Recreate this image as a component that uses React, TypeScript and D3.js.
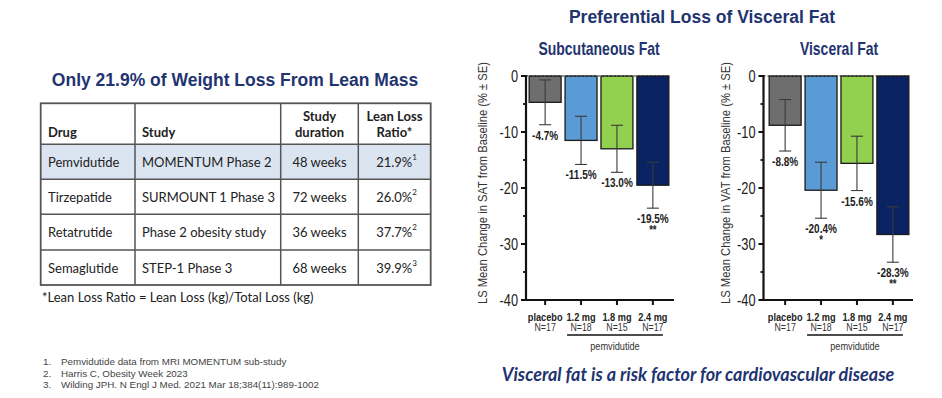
import React from "react";
import * as d3 from "d3";

const categories = ["placebo", "1.2 mg", "1.8 mg", "2.4 mg"];
const nLabels = ["N=17", "N=18", "N=15", "N=17"];
const satValues = [-4.7, -11.5, -13.0, -19.5];
const satSE = [4.0, 4.3, 4.2, 4.1];
const satSig = ["", "", "", "**"];
const vatValues = [-8.8, -20.4, -15.6, -28.3];
const vatSE = [4.6, 5.0, 4.85, 4.95];
const vatSig = ["", "*", "", "**"];
const yTicks = [0, -10, -20, -30, -40];
const yMinorTicks = [-5, -15, -25, -35];
const barColors = ["#6e6e6e", "#5b9bd5", "#92d050", "#0a2463"];

const drugs = ["Pemvidutide", "Tirzepatide", "Retatrutide", "Semaglutide"];
const studies = ["MOMENTUM Phase 2", "SURMOUNT 1 Phase 3", "Phase 2 obesity study", "STEP-1 Phase 3"];
const durations = ["48 weeks", "72 weeks", "36 weeks", "68 weeks"];
const ratios = ["21.9%", "26.0%", "37.7%", "39.9%"];
const ratioRefs = ["1", "2", "2", "3"];
const references = [
  "Pemvidutide data from MRI MOMENTUM  sub-study",
  "Harris C, Obesity Week 2023",
  "Wilding JPH.  N Engl J Med. 2021 Mar 18;384(11):989-1002",
];

const NAVY = "#1f3470";
const ARIAL = "'Liberation Sans', Arial, sans-serif";
const CAL = "Lato, 'Open Sans', sans-serif";
const SX = 0.8;

function NT(props: any) {
  const { x, y, sx = SX, children, ...rest } = props;
  return (
    <text transform={`translate(${x},${y}) scale(${sx},1)`} fontFamily={ARIAL} {...rest}>
      {children}
    </text>
  );
}

type ChartProps = {
  values: number[];
  se: number[];
  sig: string[];
  r0: number;
  r1: number;
  axisX: number;
  axisEnd: number;
  title: string;
  titleX: number;
  yTitle: string;
  yTitleX: number;
};

function FatChart(p: ChartProps) {
  const y = d3.scaleLinear().domain([0, -40]).range([76, 300]);
  const x = d3.scaleBand<string>().domain(categories).range([p.r0, p.r1]).paddingInner(0.11).paddingOuter(0.06);
  const bw = x.bandwidth();
  const yTitleText = `LS Mean Change in ${p.yTitle} from Baseline (% ± SE)`;
  const pemX0 = (x(categories[1]) as number) + 2;
  const pemX1 = (x(categories[3]) as number) + bw - 6;
  return (
    <g>
      <NT x={p.titleX} y={55} textAnchor="middle" fontWeight="bold" fontSize={17.5} fill={NAVY}>
        {p.title}
      </NT>
      <text
        transform={`translate(${p.yTitleX},${183}) rotate(-90)`}
        textAnchor="middle"
        dominantBaseline="central"
        fontFamily={ARIAL}
        fontSize={13}
        fill="#333"
        textLength={242}
        lengthAdjust="spacingAndGlyphs"
      >
        {yTitleText}
      </text>
      {categories.map((c, i) => {
        const v = p.values[i];
        return (
          <rect key={c} x={x(c)} y={y(0)} width={bw} height={y(v) - y(0)} fill={barColors[i]} stroke="#1a1a1a" strokeWidth={1.3} />
        );
      })}
      <line x1={p.axisX} x2={p.r1 - 2} y1={y(0)} y2={y(0)} stroke="#222" strokeWidth={1.2} strokeDasharray="2,2" />
      {categories.map((c, i) => {
        const cx = (x(c) as number) + bw / 2;
        const top = y(p.values[i] + p.se[i]);
        const bot = y(p.values[i] - p.se[i]);
        return (
          <g key={c} stroke="#3a3a3a" strokeWidth={1.1}>
            <line x1={cx} x2={cx} y1={top} y2={bot} />
            <line x1={cx - 6} x2={cx + 6} y1={top} y2={top} />
            <line x1={cx - 6} x2={cx + 6} y1={bot} y2={bot} />
          </g>
        );
      })}
      {categories.map((c, i) => {
        const cx = (x(c) as number) + bw / 2;
        const bot = y(p.values[i] - p.se[i]);
        return (
          <g key={c} fontWeight="bold" fill="#222" textAnchor="middle">
            <NT x={cx} y={bot + 15} fontSize={12.5} fontWeight="bold">
              {p.values[i].toFixed(1)}%
            </NT>
            {p.sig[i] && (
              <NT x={cx} y={bot + 26} fontSize={12} fontWeight="bold">
                {p.sig[i]}
              </NT>
            )}
          </g>
        );
      })}
      {/* y axis */}
      <line x1={p.axisX} x2={p.axisX} y1={y(0) - 1} y2={y(-40)} stroke="#111" strokeWidth={2.2} />
      {yTicks.map((t) => (
        <g key={t}>
          <line x1={p.axisX - 5} x2={p.axisX} y1={y(t)} y2={y(t)} stroke="#111" strokeWidth={2} />
          <NT x={p.axisX - 8} y={y(t)} dominantBaseline="central" textAnchor="end" fontSize={16} fill="#222">
            {t}
          </NT>
        </g>
      ))}
      {yMinorTicks.map((t) => (
        <line key={t} x1={p.axisX - 3} x2={p.axisX} y1={y(t)} y2={y(t)} stroke="#111" strokeWidth={1.8} />
      ))}
      {/* x axis */}
      <line x1={p.axisX - 1} x2={p.axisEnd} y1={y(-40)} y2={y(-40)} stroke="#111" strokeWidth={2.2} />
      {categories.map((c, i) => {
        const cx = (x(c) as number) + bw / 2;
        return (
          <g key={c}>
            <line x1={cx} x2={cx} y1={y(-40)} y2={y(-40) + 5} stroke="#111" strokeWidth={2} />
            <NT x={cx} y={320.5} textAnchor="middle" fontWeight="bold" fontSize={11.5} fill="#222">
              {c}
            </NT>
            <NT x={cx} y={331} textAnchor="middle" fontSize={11} fill="#333">
              {nLabels[i]}
            </NT>
          </g>
        );
      })}
      <line x1={pemX0} x2={pemX1} y1={335} y2={335} stroke="#111" strokeWidth={1.6} />
      <NT x={(pemX0 + pemX1) / 2} y={350} textAnchor="middle" fontSize={11.5} fill="#333">
        pemvidutide
      </NT>
    </g>
  );
}

function Table() {
  const cols = [40.7, 135, 280.7, 358.3, 430.7];
  const rows = [103.3, 144.3, 179.3, 214.3, 250, 285];
  const fs = 13;
  return (
    <g fontFamily={CAL} fill="#222">
      <text x={235} y={86} textAnchor="middle" fontFamily={ARIAL} fontWeight="bold" fontSize={17.5} fill={NAVY}>
        Only 21.9% of Weight Loss From Lean Mass
      </text>
      <rect x={cols[0]} y={rows[1]} width={cols[4] - cols[0]} height={rows[2] - rows[1]} fill="#dbe5f1" />
      {rows.slice(1, 5).map((r) => (
        <line key={r} x1={cols[0]} x2={cols[4]} y1={r} y2={r} stroke="#555" strokeWidth={1.5} />
      ))}
      {cols.slice(1, 4).map((c) => (
        <line key={c} x1={c} x2={c} y1={rows[0]} y2={rows[5]} stroke="#555" strokeWidth={1.5} />
      ))}
      <rect x={cols[0]} y={rows[0]} width={cols[4] - cols[0]} height={rows[5] - rows[0]} fill="none" stroke="#555" strokeWidth={1.8} />
      <g fontWeight="bold" fontSize={fs}>
        <text x={48} y={137}>Drug</text>
        <text x={142} y={137}>Study</text>
        <text x={(cols[2] + cols[3]) / 2} y={121} textAnchor="middle">Study</text>
        <text x={(cols[2] + cols[3]) / 2} y={137} textAnchor="middle">duration</text>
        <text x={(cols[3] + cols[4]) / 2} y={121} textAnchor="middle">Lean Loss</text>
        <text x={(cols[3] + cols[4]) / 2} y={137} textAnchor="middle">Ratio*</text>
      </g>
      {drugs.map((d, i) => {
        const cy = (rows[i + 1] + rows[i + 2]) / 2;
        return (
          <g key={d} fontSize={fs} dominantBaseline="central">
            <text x={48} y={cy}>{d}</text>
            <text x={142} y={cy}>{studies[i]}</text>
            <text x={(cols[2] + cols[3]) / 2} y={cy} textAnchor="middle">{durations[i]}</text>
            <text x={(cols[3] + cols[4]) / 2 + 2} y={cy} textAnchor="middle">
              {ratios[i]}
              <tspan fontSize={8} dy={-5}>{ratioRefs[i]}</tspan>
            </text>
          </g>
        );
      })}
      <text x={42} y={302} fontSize={fs}>
        *Lean Loss Ratio = Lean Loss (kg)/Total Loss (kg)
      </text>
      {references.map((r, i) => (
        <g key={r} fontFamily={ARIAL} fontSize={9.8} fill="#444">
          <text x={43} y={365 + i * 11.7}>{i + 1}.</text>
          <text x={61} y={365 + i * 11.7}>{r}</text>
        </g>
      ))}
    </g>
  );
}

export default function App() {
  return (
    <svg width={942} height={398} style={{ position: "absolute", left: 0, top: 0, background: "#fff" }}>
      <rect width={942} height={398} fill="#fff" />
      <Table />
      <text x={702} y={23} textAnchor="middle" fontFamily={ARIAL} fontWeight="bold" fontSize={17.5} fill={NAVY}>
        Preferential Loss of Visceral Fat
      </text>
      <FatChart
        values={satValues}
        se={satSE}
        sig={satSig}
        r0={527}
        r1={671}
        axisX={526}
        axisEnd={674}
        title="Subcutaneous Fat"
        titleX={599}
        yTitle="SAT"
        yTitleX={482}
      />
      <FatChart
        values={vatValues}
        se={vatSE}
        sig={vatSig}
        r0={767}
        r1={911}
        axisX={763.5}
        axisEnd={913}
        title="Visceral Fat"
        titleX={839}
        yTitle="VAT"
        yTitleX={725}
      />
      <text x={698} y={381} textAnchor="middle" fontFamily={CAL} fontStyle="italic" fontWeight="bold" fontSize={18} fill={NAVY}>
        Visceral fat is a risk factor for cardiovascular disease
      </text>
    </svg>
  );
}
